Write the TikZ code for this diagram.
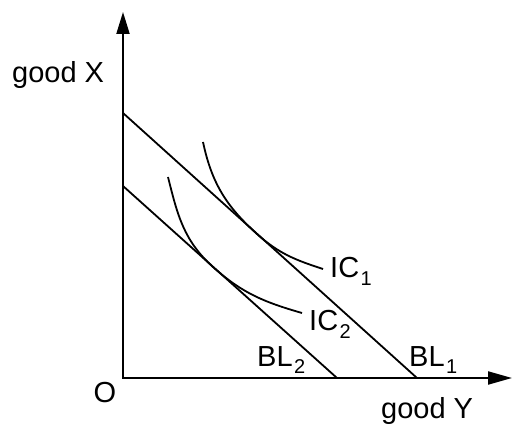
\documentclass[tikz,border=0pt]{standalone}
\usepackage{fontspec}
\setmainfont{Liberation Sans}
\usetikzlibrary{arrows.meta}

\newcommand{\lowsub}[1]{\hspace{1.5pt}\raisebox{-8pt}{\fontsize{20}{24}\selectfont #1}}

\begin{document}
\begin{tikzpicture}[
  x=1pt, y=1pt,
  font=\fontsize{29}{34}\selectfont,
  axis/.style={{Triangle[length=22pt, width=13pt]}-{Triangle[length=24pt, width=13pt]}, line width=2pt},
  budget/.style={line width=1.8pt},
  indiff/.style={line width=1.8pt},
  lbl/.style={inner sep=0pt, anchor=base west},
]
\useasboundingbox (0,0) rectangle (524,436);

% --- Axes -------------------------------------------------------------------
\coordinate (O)    at (123,58);
\coordinate (ytop) at (123,424);
\coordinate (xend) at (512,58);
\draw[axis] (ytop) -- (O) -- (xend);

% --- Budget lines -----------------------------------------------------------
\coordinate (bl1a) at (123,323);
\coordinate (bl1b) at (417,58);
\coordinate (bl2a) at (123,250);
\coordinate (bl2b) at (337,58);
\draw[budget] (bl1a) -- (bl1b);
\draw[budget] (bl2a) -- (bl2b);

% --- Indifference curves, tangent to the budget lines ------------------------
\coordinate (t1) at (257,202);
\coordinate (t2) at (213,169);
\draw[indiff] (203,294) to[out=-78, in=138] (t1) to[out=-42, in=162] (323,167);
\draw[indiff] (168,259) to[out=-76, in=138] (t2) to[out=-42, in=164] (302,123);

% --- Labels -----------------------------------------------------------------
\node[lbl] (goodx) at (12,353)  {good X};
\node[lbl] (goody) at (381,18)  {good Y};
\node[inner sep=0pt] (orig) at (105,43) {O};
\node[lbl] (ic1)   at (330,158) {IC\lowsub{1}};
\node[lbl] (ic2)   at (309,105) {IC\lowsub{2}};
\node[lbl] (bl2)   at (257,70)  {BL\lowsub{2}};
\node[lbl] (bl1)   at (409,70)  {BL\lowsub{1}};

\end{tikzpicture}
\end{document}
